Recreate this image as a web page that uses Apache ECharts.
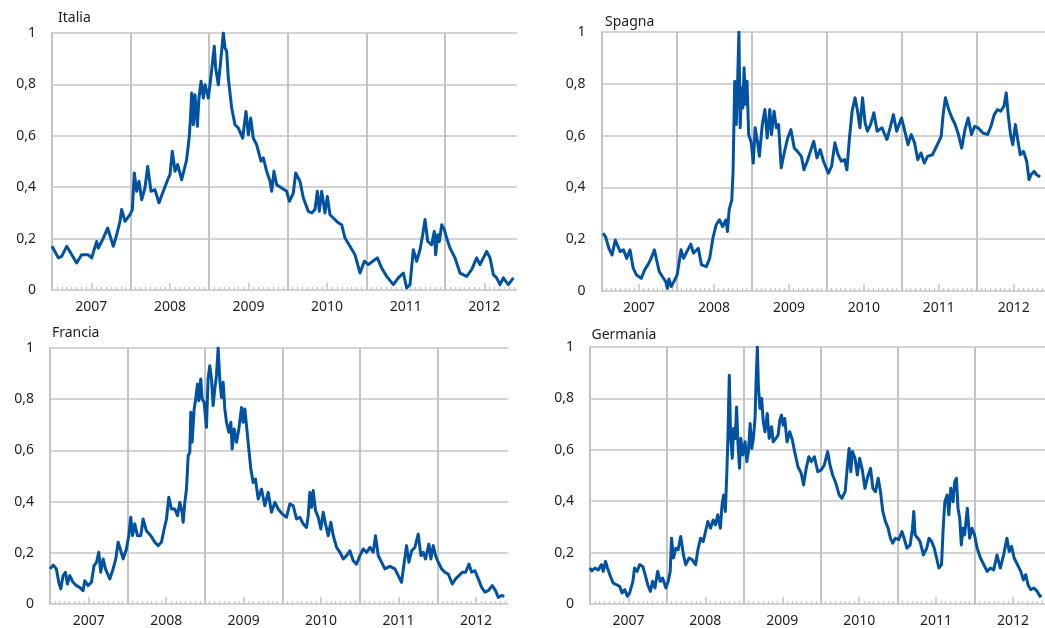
<!DOCTYPE html>
<html>
<head>
<meta charset="utf-8">
<script src="https://cdn.jsdelivr.net/npm/echarts@6/dist/echarts.min.js"></script>
<style>
  html, body { margin: 0; padding: 0; background: #fff; }
  #chart { width: 1045px; height: 628px; }
</style>
</head>
<body>
<div id="chart"></div>
<script>
// Indicator per country, 0-1 scale, dated in decimal years
const italia = [
  [2007.000,0.170],[2007.081,0.125],[2007.123,0.131],[2007.187,0.170],[2007.314,0.105],[2007.377,0.137],
  [2007.462,0.137],[2007.505,0.125],[2007.568,0.189],[2007.589,0.163],[2007.653,0.202],[2007.708,0.241],
  [2007.780,0.170],[2007.823,0.215],[2007.865,0.267],[2007.886,0.313],[2007.929,0.267],[2007.992,0.293],
  [2008.022,0.313],[2008.047,0.455],[2008.077,0.384],[2008.107,0.423],[2008.141,0.351],[2008.183,0.397],
  [2008.217,0.481],[2008.260,0.384],[2008.310,0.390],[2008.361,0.339],[2008.416,0.384],[2008.472,0.429],
  [2008.501,0.449],[2008.531,0.540],[2008.565,0.462],[2008.599,0.488],[2008.650,0.429],[2008.675,0.423],
  [2008.713,0.507],[2008.747,0.598],[2008.764,0.682],[2008.777,0.767],[2008.798,0.643],[2008.819,0.760],
  [2008.849,0.637],[2008.870,0.747],[2008.896,0.812],[2008.925,0.747],[2008.947,0.799],[2008.989,0.747],
  [2009.010,0.799],[2009.065,0.948],[2009.082,0.864],[2009.116,0.799],[2009.150,0.903],[2009.180,1.000],
  [2009.201,0.942],[2009.222,0.929],[2009.243,0.825],[2009.286,0.708],[2009.328,0.643],[2009.371,0.630],
  [2009.426,0.591],[2009.468,0.695],[2009.498,0.604],[2009.528,0.669],[2009.561,0.591],[2009.604,0.565],
  [2009.659,0.501],[2009.689,0.514],[2009.731,0.462],[2009.774,0.423],[2009.795,0.384],[2009.824,0.462],
  [2009.858,0.410],[2009.922,0.397],[2009.986,0.384],[2010.020,0.345],[2010.070,0.377],[2010.100,0.455],
  [2010.155,0.423],[2010.198,0.358],[2010.261,0.306],[2010.304,0.300],[2010.346,0.313],[2010.376,0.384],
  [2010.401,0.306],[2010.431,0.384],[2010.473,0.300],[2010.503,0.364],[2010.537,0.293],[2010.579,0.280],
  [2010.643,0.261],[2010.685,0.254],[2010.728,0.202],[2010.791,0.170],[2010.855,0.137],[2010.919,0.066],
  [2010.974,0.112],[2011.025,0.099],[2011.139,0.125],[2011.194,0.086],[2011.258,0.053],[2011.343,0.021],
  [2011.406,0.047],[2011.470,0.066],[2011.512,0.008],[2011.555,0.021],[2011.597,0.157],[2011.640,0.112],
  [2011.682,0.157],[2011.716,0.215],[2011.746,0.274],[2011.780,0.189],[2011.830,0.176],[2011.864,0.228],
  [2011.881,0.137],[2011.907,0.215],[2011.928,0.189],[2011.958,0.254],[2011.992,0.235],[2012.021,0.202],
  [2012.064,0.163],[2012.127,0.125],[2012.191,0.066],[2012.276,0.053],[2012.339,0.079],[2012.403,0.125],
  [2012.445,0.099],[2012.530,0.150],[2012.573,0.125],[2012.615,0.060],[2012.657,0.047],[2012.700,0.021],
  [2012.742,0.047],[2012.806,0.021],[2012.870,0.047]
];

const spagna = [
  [2007.020,0.223],[2007.054,0.210],[2007.098,0.165],[2007.141,0.139],[2007.184,0.197],[2007.206,0.204],
  [2007.249,0.152],[2007.293,0.159],[2007.336,0.126],[2007.380,0.159],[2007.423,0.088],[2007.466,0.062],
  [2007.531,0.049],[2007.575,0.081],[2007.618,0.101],[2007.662,0.126],[2007.705,0.159],[2007.740,0.114],
  [2007.770,0.075],[2007.813,0.055],[2007.857,0.036],[2007.879,0.010],[2007.900,0.046],[2007.931,0.017],
  [2007.965,0.036],[2008.009,0.062],[2008.061,0.159],[2008.095,0.126],[2008.139,0.152],[2008.191,0.181],
  [2008.226,0.146],[2008.291,0.165],[2008.334,0.101],[2008.399,0.094],[2008.443,0.126],[2008.486,0.204],
  [2008.529,0.255],[2008.573,0.275],[2008.616,0.249],[2008.659,0.275],[2008.681,0.230],[2008.703,0.314],
  [2008.738,0.352],[2008.755,0.462],[2008.777,0.810],[2008.798,0.643],[2008.816,0.810],[2008.833,1.000],
  [2008.850,0.630],[2008.868,0.785],[2008.885,0.707],[2008.902,0.862],[2008.920,0.720],[2008.941,0.810],
  [2008.963,0.604],[2008.998,0.572],[2009.024,0.494],[2009.050,0.630],[2009.080,0.578],[2009.106,0.520],
  [2009.145,0.643],[2009.180,0.701],[2009.210,0.591],[2009.245,0.701],[2009.267,0.604],[2009.302,0.694],
  [2009.332,0.630],[2009.362,0.643],[2009.397,0.475],[2009.432,0.526],[2009.484,0.591],[2009.527,0.623],
  [2009.571,0.552],[2009.614,0.539],[2009.666,0.520],[2009.701,0.468],[2009.744,0.501],[2009.787,0.539],
  [2009.831,0.578],[2009.874,0.514],[2009.918,0.546],[2009.961,0.501],[2010.026,0.455],[2010.069,0.481],
  [2010.113,0.572],[2010.156,0.526],[2010.200,0.501],[2010.243,0.507],[2010.273,0.468],[2010.308,0.591],
  [2010.343,0.694],[2010.382,0.746],[2010.416,0.694],[2010.447,0.630],[2010.482,0.746],[2010.516,0.649],
  [2010.547,0.617],[2010.590,0.643],[2010.633,0.688],[2010.677,0.617],[2010.742,0.630],[2010.807,0.585],
  [2010.850,0.630],[2010.894,0.681],[2010.937,0.617],[2011.002,0.668],[2011.046,0.617],[2011.089,0.565],
  [2011.132,0.604],[2011.176,0.572],[2011.219,0.507],[2011.262,0.533],[2011.306,0.494],[2011.349,0.520],
  [2011.414,0.526],[2011.458,0.552],[2011.501,0.578],[2011.531,0.597],[2011.557,0.681],[2011.588,0.746],
  [2011.631,0.701],[2011.675,0.668],[2011.718,0.643],[2011.761,0.604],[2011.805,0.552],[2011.848,0.623],
  [2011.892,0.668],[2011.935,0.604],[2011.978,0.636],[2012.022,0.630],[2012.087,0.610],[2012.152,0.604],
  [2012.195,0.636],[2012.239,0.681],[2012.282,0.701],[2012.325,0.694],[2012.369,0.714],[2012.399,0.765],
  [2012.425,0.681],[2012.456,0.604],[2012.486,0.565],[2012.521,0.643],[2012.556,0.578],[2012.586,0.526],
  [2012.629,0.539],[2012.672,0.501],[2012.703,0.430],[2012.729,0.449],[2012.772,0.462],[2012.800,0.450],
  [2012.850,0.440]
];

const francia = [
  [2007.000,0.137],[2007.040,0.152],[2007.083,0.137],[2007.113,0.085],[2007.139,0.059],[2007.169,0.111],
  [2007.199,0.124],[2007.225,0.078],[2007.255,0.111],[2007.298,0.085],[2007.341,0.072],[2007.384,0.065],
  [2007.427,0.052],[2007.449,0.091],[2007.492,0.072],[2007.535,0.085],[2007.569,0.150],[2007.600,0.163],
  [2007.630,0.202],[2007.655,0.124],[2007.686,0.176],[2007.716,0.137],[2007.772,0.098],[2007.815,0.137],
  [2007.849,0.176],[2007.880,0.241],[2007.914,0.208],[2007.944,0.176],[2007.987,0.215],[2008.017,0.267],
  [2008.043,0.339],[2008.065,0.267],[2008.095,0.313],[2008.129,0.267],[2008.172,0.267],[2008.202,0.332],
  [2008.245,0.286],[2008.301,0.267],[2008.353,0.241],[2008.396,0.228],[2008.439,0.241],[2008.474,0.293],
  [2008.504,0.332],[2008.534,0.417],[2008.568,0.371],[2008.611,0.371],[2008.646,0.345],[2008.676,0.397],
  [2008.706,0.358],[2008.719,0.319],[2008.741,0.397],[2008.762,0.449],[2008.784,0.579],[2008.805,0.592],
  [2008.818,0.749],[2008.835,0.632],[2008.861,0.762],[2008.878,0.794],[2008.904,0.859],[2008.921,0.794],
  [2008.947,0.879],[2008.964,0.801],[2008.990,0.788],[2009.020,0.690],[2009.041,0.879],[2009.063,0.931],
  [2009.085,0.879],[2009.106,0.775],[2009.128,0.840],[2009.149,0.892],[2009.171,1.000],[2009.193,0.872],
  [2009.214,0.807],[2009.236,0.866],[2009.257,0.762],[2009.279,0.710],[2009.309,0.671],[2009.335,0.710],
  [2009.352,0.605],[2009.378,0.684],[2009.408,0.632],[2009.438,0.684],[2009.473,0.768],[2009.494,0.710],
  [2009.516,0.762],[2009.537,0.697],[2009.567,0.605],[2009.593,0.527],[2009.623,0.475],[2009.653,0.488],
  [2009.688,0.410],[2009.731,0.449],[2009.774,0.384],[2009.817,0.436],[2009.860,0.358],[2009.903,0.397],
  [2009.946,0.371],[2009.998,0.352],[2010.054,0.339],[2010.097,0.391],[2010.140,0.384],[2010.183,0.332],
  [2010.226,0.339],[2010.269,0.313],[2010.312,0.299],[2010.334,0.345],[2010.355,0.436],[2010.377,0.378],
  [2010.398,0.443],[2010.428,0.365],[2010.463,0.339],[2010.497,0.293],[2010.527,0.358],[2010.557,0.313],
  [2010.592,0.267],[2010.626,0.319],[2010.657,0.267],[2010.700,0.221],[2010.743,0.202],[2010.786,0.176],
  [2010.829,0.189],[2010.872,0.208],[2010.915,0.169],[2010.958,0.156],[2011.001,0.189],[2011.044,0.215],
  [2011.088,0.202],[2011.131,0.221],[2011.173,0.202],[2011.203,0.267],[2011.238,0.189],[2011.281,0.163],
  [2011.324,0.137],[2011.389,0.147],[2011.453,0.137],[2011.496,0.111],[2011.539,0.085],[2011.574,0.163],
  [2011.604,0.228],[2011.634,0.163],[2011.669,0.208],[2011.711,0.221],[2011.754,0.273],[2011.789,0.189],
  [2011.819,0.202],[2011.849,0.176],[2011.892,0.234],[2011.918,0.176],[2011.948,0.228],[2011.978,0.189],
  [2012.013,0.163],[2012.056,0.137],[2012.099,0.124],[2012.142,0.117],[2012.194,0.078],[2012.237,0.098],
  [2012.280,0.111],[2012.323,0.124],[2012.366,0.124],[2012.409,0.156],[2012.444,0.124],[2012.487,0.130],
  [2012.530,0.098],[2012.573,0.065],[2012.616,0.046],[2012.659,0.052],[2012.710,0.072],[2012.753,0.052],
  [2012.788,0.026],[2012.831,0.033],[2012.866,0.030]
];

const germania = [
  [2007.000,0.140],[2007.021,0.129],[2007.064,0.140],[2007.107,0.133],[2007.150,0.153],[2007.172,0.127],
  [2007.202,0.166],[2007.227,0.140],[2007.258,0.114],[2007.300,0.082],[2007.343,0.075],[2007.386,0.069],
  [2007.416,0.043],[2007.451,0.056],[2007.485,0.030],[2007.515,0.043],[2007.558,0.088],[2007.579,0.140],
  [2007.614,0.127],[2007.644,0.153],[2007.687,0.146],[2007.717,0.114],[2007.751,0.075],[2007.785,0.049],
  [2007.815,0.088],[2007.845,0.062],[2007.880,0.127],[2007.914,0.088],[2007.944,0.101],[2007.987,0.062],
  [2008.017,0.088],[2008.043,0.127],[2008.060,0.256],[2008.086,0.179],[2008.116,0.217],[2008.146,0.211],
  [2008.180,0.263],[2008.215,0.191],[2008.245,0.153],[2008.288,0.179],[2008.330,0.172],[2008.373,0.153],
  [2008.403,0.211],[2008.438,0.256],[2008.472,0.243],[2008.502,0.282],[2008.532,0.321],[2008.567,0.295],
  [2008.601,0.327],[2008.631,0.308],[2008.661,0.347],[2008.695,0.295],[2008.717,0.386],[2008.738,0.424],
  [2008.760,0.360],[2008.781,0.528],[2008.794,0.657],[2008.811,0.890],[2008.828,0.657],[2008.850,0.567],
  [2008.867,0.683],[2008.888,0.644],[2008.906,0.767],[2008.923,0.631],[2008.944,0.528],[2008.961,0.644],
  [2008.987,0.580],[2009.017,0.631],[2009.039,0.554],[2009.060,0.593],[2009.082,0.702],[2009.103,0.605],
  [2009.124,0.644],[2009.146,0.722],[2009.159,0.864],[2009.176,1.000],[2009.189,0.851],[2009.210,0.761],
  [2009.232,0.800],[2009.253,0.709],[2009.275,0.670],[2009.305,0.741],[2009.330,0.644],[2009.361,0.690],
  [2009.382,0.631],[2009.416,0.644],[2009.446,0.657],[2009.468,0.715],[2009.489,0.735],[2009.511,0.696],
  [2009.532,0.722],[2009.562,0.631],[2009.597,0.670],[2009.631,0.638],[2009.661,0.593],[2009.704,0.534],
  [2009.747,0.508],[2009.777,0.463],[2009.811,0.528],[2009.845,0.573],[2009.876,0.554],[2009.918,0.573],
  [2009.961,0.515],[2010.004,0.521],[2010.047,0.541],[2010.090,0.593],[2010.120,0.541],[2010.155,0.502],
  [2010.197,0.470],[2010.240,0.424],[2010.275,0.411],[2010.318,0.437],[2010.348,0.541],[2010.369,0.605],
  [2010.391,0.515],[2010.412,0.593],[2010.446,0.567],[2010.476,0.502],[2010.506,0.567],[2010.541,0.521],
  [2010.575,0.450],[2010.605,0.489],[2010.648,0.528],[2010.678,0.450],[2010.712,0.437],[2010.747,0.489],
  [2010.777,0.437],[2010.807,0.360],[2010.841,0.321],[2010.876,0.295],[2010.906,0.256],[2010.936,0.237],
  [2010.970,0.256],[2011.013,0.250],[2011.056,0.282],[2011.090,0.250],[2011.120,0.217],[2011.163,0.230],
  [2011.193,0.295],[2011.210,0.360],[2011.227,0.269],[2011.262,0.256],[2011.292,0.243],[2011.335,0.191],
  [2011.378,0.217],[2011.408,0.256],[2011.442,0.243],[2011.476,0.217],[2011.506,0.179],[2011.536,0.140],
  [2011.571,0.153],[2011.592,0.295],[2011.614,0.398],[2011.644,0.424],[2011.665,0.347],[2011.691,0.450],
  [2011.721,0.398],[2011.742,0.476],[2011.764,0.489],[2011.785,0.373],[2011.807,0.334],[2011.828,0.230],
  [2011.850,0.295],[2011.871,0.269],[2011.906,0.373],[2011.936,0.256],[2011.966,0.295],[2012.000,0.269],
  [2012.034,0.217],[2012.077,0.179],[2012.120,0.153],[2012.163,0.127],[2012.206,0.140],[2012.249,0.133],
  [2012.292,0.191],[2012.335,0.140],[2012.378,0.191],[2012.421,0.256],[2012.451,0.204],[2012.481,0.224],
  [2012.515,0.179],[2012.558,0.153],[2012.601,0.127],[2012.635,0.094],[2012.665,0.114],[2012.695,0.075],
  [2012.730,0.056],[2012.773,0.062],[2012.815,0.049],[2012.850,0.030],[2012.870,0.035]
];

// Axis labels and ticks
const years = [2007, 2008, 2009, 2010, 2011, 2012];
const yTicks = [0, 0.2, 0.4, 0.6, 0.8, 1];
const xMin = 2007;
const xMax = 2012.916;

const FONT = "'Noto Sans', 'Open Sans', sans-serif";
const GRID_COLOR = '#c4c4c4';
const LINE_COLOR = '#0152a1';

// Panel layout (pixels)
const panels = [
  { name: 'Italia',   data: italia,   left: 52,    top: 33,  width: 465,   height: 257, tx: 58,    ty: 11 },
  { name: 'Spagna',   data: spagna,   left: 601.5, top: 32,  width: 453.8, height: 259, tx: 605,   ty: 15 },
  { name: 'Francia',  data: francia,  left: 50,    top: 348, width: 458.2, height: 256, tx: 52,    ty: 326 },
  { name: 'Germania', data: germania, left: 590,   top: 347, width: 459,   height: 258, tx: 591.5, ty: 328 }
];

const yearLines = years.slice(1);
const midYears = years.map(y => y + 0.5);
const smallTicks = [];
years.forEach(y => {
  for (let k = 1; k < 16; k++) {
    if (k !== 8 && y + k / 16 < xMax) smallTicks.push(y + k / 16);
  }
});

const fmtY = v => {
  const r = Math.round(v * 10) / 10;
  return String(r).replace('.', ',');
};

const grid = [], xAxis = [], yAxis = [], series = [], graphic = [];

panels.forEach((p, i) => {
  grid.push({ left: p.left, top: p.top, width: p.width, height: p.height, containLabel: false });

  // vertical year separators
  xAxis.push({
    type: 'value', gridIndex: i, min: xMin, max: xMax, interval: 1, position: 'bottom',
    axisLine: { show: false }, axisLabel: { show: false },
    axisTick: { show: false, customValues: yearLines },
    splitLine: { show: true, lineStyle: { color: GRID_COLOR, width: 2 } }
  });
  // mid-year labels and tall ticks
  xAxis.push({
    type: 'value', gridIndex: i, min: xMin, max: xMax, position: 'bottom',
    axisLine: { show: false }, splitLine: { show: false },
    axisTick: { show: true, inside: true, length: 7, customValues: midYears,
                lineStyle: { color: GRID_COLOR, width: 1.5 } },
    axisLabel: { show: true, customValues: midYears, margin: 10,
                 formatter: v => String(Math.floor(v)),
                 fontFamily: FONT, fontSize: 14, color: '#1e1e1e' }
  });
  // small ticks along the base
  xAxis.push({
    type: 'value', gridIndex: i, min: xMin, max: xMax, position: 'bottom',
    axisLine: { show: false }, splitLine: { show: false }, axisLabel: { show: false },
    axisTick: { show: true, inside: true, length: 3, customValues: smallTicks,
                lineStyle: { color: GRID_COLOR, width: 1.2 } }
  });

  yAxis.push({
    type: 'value', gridIndex: i, min: 0, max: 1, interval: 0.2,
    axisLine: { show: true, lineStyle: { color: GRID_COLOR, width: 2 } },
    axisTick: { show: false },
    axisLabel: { formatter: fmtY, margin: 16, fontFamily: FONT, fontSize: 14, color: '#1e1e1e' },
    splitLine: { show: true, lineStyle: { color: GRID_COLOR, width: 1.5 } }
  });

  series.push({
    name: p.name, type: 'line', xAxisIndex: i * 3, yAxisIndex: i,
    data: p.data, showSymbol: false, symbol: 'none', clip: true, z: 5,
    lineStyle: { color: LINE_COLOR, width: 3, join: 'round' }
  });

  graphic.push({
    type: 'text', left: p.tx, top: p.ty,
    style: { text: p.name, font: '14px ' + FONT, fill: '#1e1e1e' }
  });
});

const chart = echarts.init(document.getElementById('chart'), null, { renderer: 'canvas' });
chart.setOption({
  animation: false,
  backgroundColor: '#ffffff',
  grid, xAxis, yAxis, series, graphic
});
</script>
</body>
</html>
